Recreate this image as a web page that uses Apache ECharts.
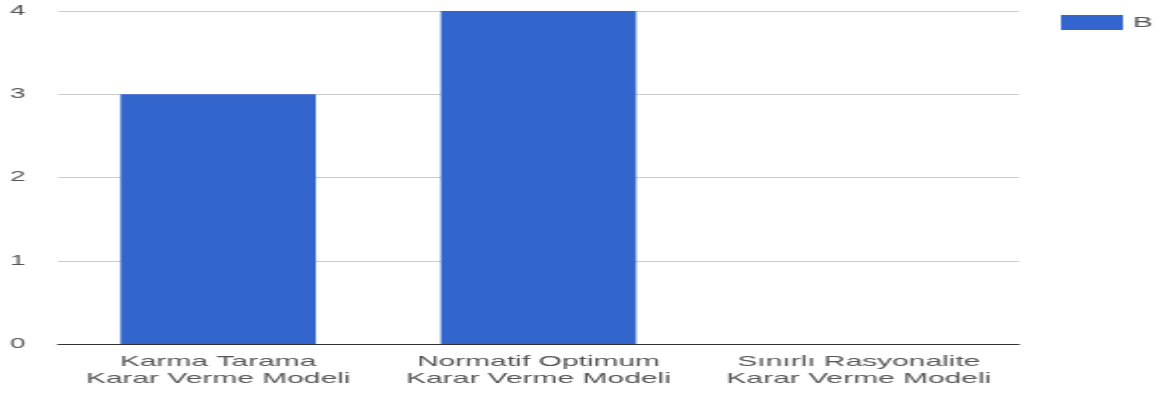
<!DOCTYPE html>
<html>
<head>
<meta charset="utf-8">
<script src="https://cdn.jsdelivr.net/npm/echarts@6/dist/echarts.min.js"></script>
<style>
  html, body { margin: 0; padding: 0; background: #fff; overflow: hidden; }
  /* the reference picture is stretched sideways, so draw narrow and widen */
  #chart { width: 582px; height: 394px; transform: scaleX(1.998); transform-origin: 0 0; }
</style>
</head>
<body>
<div id="chart"></div>
<script>
// categories and values
var categories = [
  'Karma Tarama\nKarar Verme Modeli',
  'Normatif Optimum\nKarar Verme Modeli',
  'Sınırlı Rasyonalite\nKarar Verme Modeli'
];
var seriesName = 'B';
var values = [3, 4, 0];

var chart = echarts.init(document.getElementById('chart'));

chart.setOption({
  animation: false,
  textStyle: { fontFamily: 'Liberation Sans, Arial, sans-serif' },
  legend: {
    data: [seriesName],
    left: 526,
    top: 10,
    itemWidth: 31,
    itemHeight: 15,
    icon: 'rect',
    textStyle: { color: '#555', fontSize: 15 }
  },
  grid: {
    left: 29,
    right: 72,
    top: 11,
    bottom: 50
  },
  xAxis: {
    type: 'category',
    data: categories,
    axisLine: { lineStyle: { color: '#333', width: 1 } },
    axisTick: { show: false },
    axisLabel: {
      color: '#555',
      fontSize: 15,
      lineHeight: 17,
      margin: 9,
      interval: 0
    }
  },
  yAxis: {
    type: 'value',
    min: 0,
    max: 4,
    interval: 1,
    axisLine: { show: false },
    axisTick: { show: false },
    axisLabel: { color: '#555', fontSize: 14, margin: 24, align: 'left' },
    splitLine: { lineStyle: { color: '#ccc', width: 1 } }
  },
  series: [{
    name: seriesName,
    type: 'bar',
    data: values,
    barWidth: '61%',
    itemStyle: { color: '#3366cc' }
  }]
});
</script>
</body>
</html>
